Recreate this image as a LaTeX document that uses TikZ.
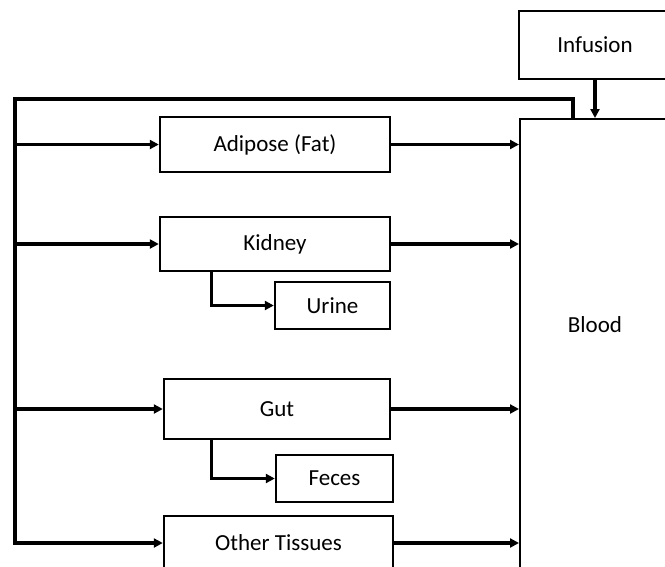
\documentclass[tikz,border=0pt]{standalone}
\usepackage{fontspec}
\setmainfont{Carlito}
\usetikzlibrary{arrows.meta,calc}

\tikzset{
  organ/.style={draw, line width=2.4pt, inner sep=0pt, font=\fontsize{23}{27}\selectfont},
  flow/.style={line width=3.2pt, -{Triangle[length=9pt,width=9pt]}},
}

\begin{document}
\begin{tikzpicture}[x=1pt,y=-1pt]
			%%%%% FRAME %%%%%
			\useasboundingbox (0,0) rectangle (665,566);
			\clip (0,0) rectangle (665,566);
			
			%%%%% BOXES %%%%%
			\node[organ, minimum width=152, minimum height=68] (infusion) at (595,45) {Infusion};
			\node[organ, line width=1.6pt, minimum width=152, minimum height=500, anchor=north west] (blood) at (519,118) {};
			\node[font=\fontsize{23}{27}\selectfont] (bloodlabel) at (595,325) {Blood};
			
			\node[organ, minimum width=230, minimum height=55] (adipose) at (275,144.5) {Adipose (Fat)};
			\node[organ, minimum width=230, minimum height=54] (kidney) at (275,244) {Kidney};
			\node[organ, minimum width=115, minimum height=47] (urine) at (332.5,305.5) {Urine};
			\node[organ, minimum width=226, minimum height=60] (gut) at (277,409) {Gut};
			\node[organ, minimum width=117, minimum height=47] (feces) at (334.5,478.5) {Feces};
			\node[organ, minimum width=229, minimum height=54] (other) at (278.5,543) {Other Tissues};
			
			%%%%% RETURN LOOP %%%%%
			\coordinate (turn) at (573,99);
			\coordinate (spine) at (15,99);
			\draw[flow] (blood.north -| turn) -- (turn) -- (spine) |- (other.west);
			\foreach \tissue in {adipose,kidney,gut}
				\draw[flow] (spine |- \tissue.west) -- (\tissue.west);
			
			%%%%% INTO BLOOD %%%%%
			\draw[flow] (infusion.south) -- (blood.north -| infusion.south);
			\foreach \tissue in {adipose,kidney,gut,other}
				\draw[flow] (\tissue.east) -- (\tissue.east -| blood.west);
			
			%%%%% EXCRETION %%%%%
			\draw[flow] ($(kidney.south west)+(53,0)$) |- (urine.west);
			\draw[flow] ($(gut.south west)+(49,0)$) |- (feces.west);
			
\end{tikzpicture}
\end{document}
